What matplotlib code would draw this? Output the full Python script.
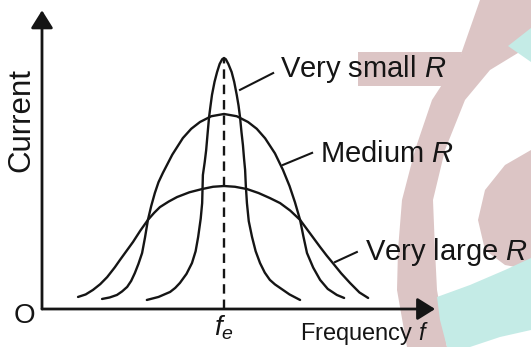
import numpy as np
import matplotlib
matplotlib.use("Agg")
import matplotlib.pyplot as plt
from matplotlib.patches import Polygon

plt.rcParams['font.family'] = ['Liberation Sans', 'DejaVu Sans']
plt.rcParams['mathtext.fontset'] = 'custom'
plt.rcParams['mathtext.rm'] = 'Liberation Sans'
plt.rcParams['mathtext.it'] = 'Liberation Sans:italic'

# resonance curves (frequency, current) in arbitrary units, resonance at f_e = 5
f_e = 5.0
i_peak = 10.0

f_small = [2.88, 3.20, 3.52, 3.66, 3.79, 3.97, 4.12, 4.22, 4.29, 4.36, 4.40, 4.42, 4.47, 4.51,
           4.55, 4.59, 4.63, 4.67, 4.74, 4.81, 4.88, 4.95, 5.00, 5.05, 5.12, 5.21, 5.28, 5.35,
           5.40, 5.44, 5.48, 5.52, 5.55, 5.58, 5.60, 5.63, 5.68, 5.77, 5.87, 5.99, 6.12, 6.26,
           6.40, 6.54, 6.80, 7.09]
i_small = [0.36, 0.48, 0.68, 0.84, 1.04, 1.40, 1.83, 2.30, 2.87, 3.60, 4.22, 5.34, 5.85, 6.33,
           7.00, 7.65, 8.10, 8.53, 9.05, 9.44, 9.76, 9.95, 10.0, 9.95, 9.76, 9.44, 9.05, 8.53,
           8.10, 7.65, 7.05, 6.53, 6.00, 5.54, 4.90, 4.22, 3.50, 2.87, 2.30, 1.83, 1.45, 1.16,
           0.98, 0.84, 0.58, 0.36]

f_medium = [1.65, 1.86, 2.06, 2.20, 2.34, 2.45, 2.55, 2.65, 2.75, 2.83, 2.91, 3.00, 3.10, 3.20,
            3.32, 3.58, 3.87, 4.10, 4.34, 4.65, 5.00, 5.35, 5.66, 5.90, 6.13, 6.40, 6.62, 6.80,
            6.95, 7.09, 7.18, 7.28, 7.45, 7.64, 7.85, 8.10, 8.30]
i_medium = [0.40, 0.46, 0.56, 0.70, 0.88, 1.12, 1.43, 1.80, 2.23, 2.85, 3.55, 4.10, 4.62, 5.05,
            5.42, 6.15, 6.81, 7.18, 7.45, 7.68, 7.77, 7.68, 7.45, 7.18, 6.80, 6.20, 5.54, 4.90,
            4.25, 3.55, 2.90, 2.23, 1.65, 1.16, 0.80, 0.56, 0.44]

f_large = [0.99, 1.20, 1.40, 1.60, 1.79, 2.00, 2.14, 2.32, 2.50, 2.70, 2.91, 3.08, 3.24, 3.48,
           3.71, 4.05, 4.40, 4.70, 5.00, 5.30, 5.63, 5.95, 6.26, 6.54, 6.82, 7.09, 7.36, 7.64,
           7.82, 7.99, 8.22, 8.46, 8.72, 8.96]
i_large = [0.48, 0.58, 0.76, 0.99, 1.27, 1.66, 1.95, 2.31, 2.67, 3.12, 3.55, 3.83, 4.06, 4.28,
           4.46, 4.65, 4.78, 4.87, 4.90, 4.87, 4.78, 4.62, 4.42, 4.22, 3.92, 3.55, 3.02, 2.47,
           2.13, 1.83, 1.42, 1.04, 0.66, 0.44]

labels = [r"Very small $R$", r"Medium $R$", r"Very large $R$"]
# leader line (start on curve, end near label) and label anchor
leaders = [((5.44, 8.73), (6.35, 9.40)),
           ((6.62, 5.74), (7.42, 6.22)),
           ((8.05, 1.87), (8.65, 2.27))]
label_pos = [(6.54, 9.24), (7.64, 5.86), (8.87, 1.95)]

W, H = 531, 347
fig = plt.figure(figsize=(W / 100, H / 100), dpi=100)

# faint logo in the background
bg = fig.add_axes([0, 0, 1, 1])
bg.set_xlim(0, W)
bg.set_ylim(H, 0)
bg.axis('off')
pink = '#dcc5c5'
cyan = '#c4ebe6'
band = [(480, 0), (460, 57), (432, 100), (415, 150), (402, 200), (398, 250), (397, 290), (407, 347),
        (447, 347), (437, 290), (435, 250), (433, 200), (445, 150), (465, 100), (490, 70),
        (531, 45), (531, 0)]
bg.add_patch(Polygon(band, closed=True, fc=pink, ec='none'))
bg.add_patch(Polygon([(358, 52), (462, 52), (452, 86), (358, 86)], closed=True, fc=pink, ec='none'))
inner = [(531, 150), (505, 165), (485, 190), (478, 220), (485, 250), (505, 265), (531, 270)]
bg.add_patch(Polygon(inner, closed=True, fc=pink, ec='none'))
bg.add_patch(Polygon([(531, 28), (508, 46), (531, 62)], closed=True, fc=cyan, ec='none'))
bg.add_patch(Polygon([(437, 297), (470, 285), (505, 270), (531, 258), (531, 330), (500, 337),
                      (470, 347), (447, 347), (440, 320)], closed=True, fc=cyan, ec='none'))

ax = fig.add_axes([42 / W, 38 / H, 489 / W, 309 / H])
ax.set_xlim(0, 489 / 36.4)
ax.set_ylim(0, 309 / 25.1)
ax.axis('off')

ink = '#151515'
for f, i in [(f_small, i_small), (f_medium, i_medium), (f_large, i_large)]:
    ax.plot(f, i, color=ink, lw=1.7, solid_joinstyle='round', solid_capstyle='round')

ax.plot([f_e, f_e], [0, i_peak], color=ink, lw=1.7, ls=(0, (4, 2.5)))

for (p0, p1), txt, pos in zip(leaders, labels, label_pos):
    ax.plot([p0[0], p1[0]], [p0[1], p1[1]], color=ink, lw=1.5)
    ax.text(pos[0], pos[1], txt, fontsize=21, ha='left', va='baseline', color=ink)

# axes with arrow heads
arrow = dict(arrowstyle='-|>,head_length=0.4,head_width=0.25', lw=2.0, color=ink,
             mutation_scale=27, shrinkA=0, shrinkB=0)
ax.annotate('', xy=(10.8, 0), xytext=(0, 0), arrowprops=arrow, annotation_clip=False)
ax.annotate('', xy=(0, 11.9), xytext=(0, 0), arrowprops=arrow, annotation_clip=False)

ax.text(-0.58, 7.53, 'Current', rotation=90, fontsize=22.5, ha='center', va='center', color=ink)
ax.text(-0.47, -0.56, 'O', fontsize=20, ha='center', va='baseline', color=ink)
ax.text(f_e, -0.16, r"$f_e$", fontsize=20, ha='center', va='top', color=ink)
ax.text(7.09, -1.24, r"Frequency $f$", fontsize=17, ha='left', va='baseline', color=ink)

fig.savefig('out.png', dpi=100)
